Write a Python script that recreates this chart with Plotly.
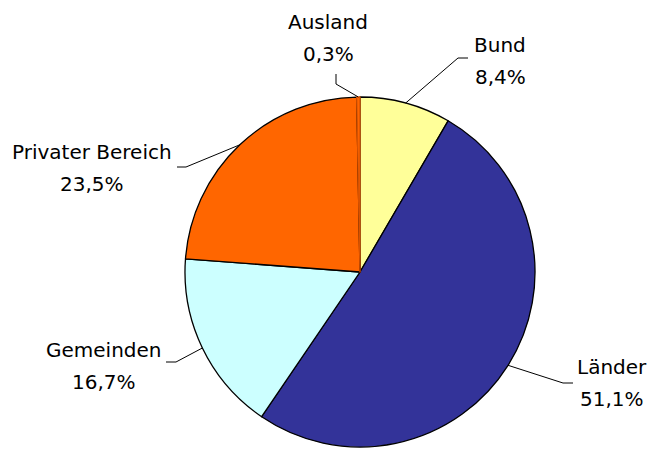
import math
import plotly.graph_objects as go

# ---- data ----
labels = ["Bund", "Länder", "Gemeinden", "Privater Bereich", "Ausland"]
values = [8.4, 51.1, 16.7, 23.5, 0.3]
value_texts = ["8,4%", "51,1%", "16,7%", "23,5%", "0,3%"]
colors = ["#FFFF99", "#333399", "#CCFFFF", "#FF6600", "#FF6600"]
edge_colors = ["#000000", "#000000", "#000000", "#000000", "#D85200"]

# ---- layout (pixels) ----
W, H = 650, 449
CX, CY, R = 360, 272, 175
FONT = dict(family="DejaVu Sans", size=20, color="#000000")

# label placement: elbow point, horizontal end, text center
label_layout = {
    "Bund": dict(elbow=(458, 58), end=(468, 58), text=(500, 45)),
    "Länder": dict(elbow=(563, 383), end=(573, 383), text=(612, 367)),
    "Gemeinden": dict(elbow=(176, 362), end=(166, 362), text=(104, 350)),
    "Privater Bereich": dict(elbow=(186, 167), end=(177, 167), text=(92, 152)),
    "Ausland": dict(elbow=(336, 84), end=(336, 74), text=(328, 22)),
}
LINE_GAP = 32


def px(x):
    return x / W


def py(y):
    return 1 - y / H


fig = go.Figure(
    go.Pie(
        labels=labels,
        values=values,
        sort=False,
        direction="clockwise",
        rotation=0,
        marker=dict(colors=colors, line=dict(color=edge_colors, width=1.3)),
        textinfo="none",
        hoverinfo="label+percent",
        showlegend=False,
        domain=dict(x=[px(CX - R), px(CX + R)], y=[py(CY + R), py(CY - R)]),
    )
)

shapes = []
annotations = []
total = sum(values)
cum = 0.0
for lab, v, vt in zip(labels, values, value_texts):
    mid = (cum + v / 2) / total * 2 * math.pi
    cum += v
    ex = CX + R * math.sin(mid)
    ey = CY - R * math.cos(mid)
    L = label_layout[lab]
    (bx, by), (hx, hy), (tx, ty) = L["elbow"], L["end"], L["text"]
    shapes.append(dict(type="line", xref="paper", yref="paper",
                       x0=px(ex), y0=py(ey), x1=px(bx), y1=py(by),
                       line=dict(color="#000000", width=1)))
    shapes.append(dict(type="line", xref="paper", yref="paper",
                       x0=px(bx), y0=py(by), x1=px(hx), y1=py(hy),
                       line=dict(color="#000000", width=1)))
    annotations.append(dict(xref="paper", yref="paper", x=px(tx), y=py(ty),
                            text=lab, showarrow=False, font=FONT,
                            xanchor="center", yanchor="middle"))
    annotations.append(dict(xref="paper", yref="paper", x=px(tx), y=py(ty + LINE_GAP),
                            text=vt, showarrow=False, font=FONT,
                            xanchor="center", yanchor="middle"))

fig.update_layout(
    width=W, height=H,
    margin=dict(l=0, r=0, t=0, b=0),
    paper_bgcolor="#FFFFFF",
    plot_bgcolor="#FFFFFF",
    shapes=shapes,
    annotations=annotations,
)

fig.write_html(
    "out.html",
    config={"displayModeBar": False},
    post_script="document.body.style.margin='0';document.body.style.overflow='hidden';",
)
